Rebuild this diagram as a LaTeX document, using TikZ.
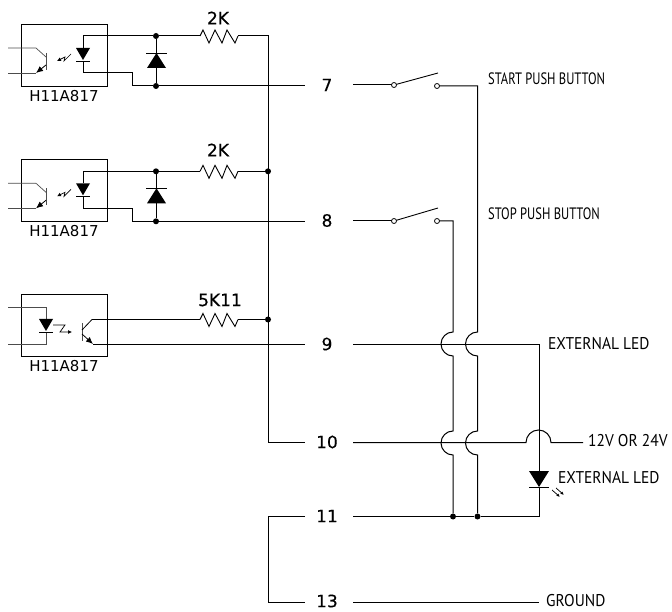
\documentclass[tikz,border=0pt]{standalone}
\usepackage{fontspec}
\setmainfont{PT Sans}
\newfontfamily\optofont{DejaVu Sans}
\newfontfamily\numfont[FakeBold=0.4]{DejaVu Sans}
\newfontfamily\sigfont[FakeStretch=0.91]{PT Sans}
\newfontfamily\sigfontn[FakeStretch=0.76]{PT Sans}
\usetikzlibrary{arrows.meta}
\tikzset{
  wire/.style={line width=1pt,line join=miter},
  thin wire/.style={line width=0.7pt,black!70},
  dotn/.style={circle,fill=black,inner sep=0pt,minimum size=6pt},
  contact/.style={circle,draw,fill=white,line width=0.8pt,inner sep=0pt,minimum size=5pt},
  pinlabel/.style={font=\numfont\fontsize{17}{17}\selectfont,inner sep=0pt},
  vallabel/.style={font=\numfont\fontsize{17}{17}\selectfont,inner sep=0pt},
  sig/.style={font=\sigfont\fontsize{17}{17}\selectfont,inner sep=0pt,anchor=west},
  signarrow/.style={font=\sigfontn\fontsize{16.5}{17}\selectfont,inner sep=0pt,anchor=west},
  partlabel/.style={font=\optofont\fontsize{15}{15}\selectfont,inner sep=0pt},
  pics/resistor/.style={code={
    \coordinate (-l) at (0,0);\coordinate (-r) at (38,0);
    \draw[line width=0.9pt,line join=miter] (0,0)--(3,-6)--(9,7)--(15,-6)--(22,7)--(27,-6)--(35,7)--(38,0);
  }},
  pics/optoin/.style={code={
    \draw[line width=0.9pt] (21,24) rectangle (107,86);
    \coordinate (-a) at (83,36); \coordinate (-k) at (83,73);
    \draw[wire] (83,36)--(83,48);
    \fill[black] (76,48)--(90,48)--(83,60)--cycle;
    \draw[line width=0.8pt] (76,61)--(90,61);
    \draw[wire] (83,61)--(83,73);
    \draw[thin wire] (8,48)--(36,48)--(46,57);
    \draw[thin wire] (8,73)--(36,73);
    \draw[line width=0.8pt,black!70] (46,53)--(46,70);
    \draw[line width=0.8pt,-{Latex[length=7pt,width=6pt]}] (46,65)--(36,73);
    \draw[line width=0.7pt,-{Latex[length=4pt,width=4pt]}] (71,54)--(64,61)--(65,57)--(57,61);
    \node[partlabel] at (64,96) {H11A817};
  }},
}
\begin{document}
\begin{tikzpicture}[x=1pt,y=-1pt]
\useasboundingbox (0,0) rectangle (672,612);
% opto-couplers
\pic (o1) at (0,0) {optoin};
\pic (o2) at (0,135.3) {optoin};
% third opto
\draw[line width=0.9pt] (21,294) rectangle (107,356);
\node[partlabel] at (64,366) {H11A817};
\draw[thin wire] (8,307)--(46,307)--(46,319);
\draw[thin wire] (8,344)--(46,344)--(46,332);
\fill[black] (39,319)--(53,319)--(46,331)--cycle;
\draw[line width=0.8pt] (39,332)--(53,332);
\draw[line width=0.7pt,-{Latex[length=4pt,width=4pt]}] (53,325)--(65,325)--(60,332)--(72,332);
\draw[line width=0.8pt,black!70] (82,323)--(82,341);
\draw[line width=0.8pt] (82,330)--(92,319.5);
\draw[line width=0.8pt,-{Latex[length=7pt,width=6pt]}] (82,334)--(93,344);
% pin labels
\node[pinlabel] (p7) at (327,85) {7};
\node[pinlabel] (p8) at (327,220.5) {8};
\node[pinlabel] (p9) at (327,344) {9};
\node[pinlabel] (p10) at (327,442) {10};
\node[pinlabel] (p11) at (327,516) {11};
\node[pinlabel] (p13) at (327,601) {13};
% values
\node[vallabel] (v1) at (218,18) {2K};
\node[vallabel] (v2) at (218,150) {2K};
\node[vallabel] (v3) at (220,300) {5K11};
% resistors
\pic (r1) at (200,36) {resistor};
\pic (r2) at (200,171.3) {resistor};
\pic (r3) at (200,319.5) {resistor};
% signal labels
\node[signarrow] (s1) at (488,79) {START PUSH BUTTON};
\node[signarrow] (s2) at (488,214) {STOP PUSH BUTTON};
\node[sig] (s3) at (548,344) {EXTERNAL LED};
\node[sig] (s4) at (588,441) {12V OR 24V};
\node[sig] (s5) at (558,478) {EXTERNAL LED};
\node[sig] (s6) at (546,601) {GROUND};
% junctions
\coordinate (busT) at (268,36);
\node[dotn] (j2) at (268,171.3) {};
\node[dotn] (j3) at (268,319.5) {};
\node[dotn] (d1t) at (156,36) {};
\node[dotn] (d1b) at (156,86) {};
\node[dotn] (d2t) at (156,171.3) {};
\node[dotn] (d2b) at (156,221.3) {};
\node[dotn] (j11a) at (453,516.5) {};
\node[dotn] (j11b) at (477.5,516.5) {};
% freewheel diodes
\foreach \a/\b in {d1t/d1b,d2t/d2b}{\draw[wire] (\a)--(\b);}
\foreach \y in {0,135.3}{
  \fill[black] (147,68+\y)--(166,68+\y)--(156.5,53+\y)--cycle;
  \draw[line width=0.9pt] (146,53+\y)--(167,53+\y);
}
% top wiring
\draw[wire] (o1-a)--(d1t)--(r1-l);
\draw[wire] (r1-r)--(busT)--(268,442.5)--(305,442.5);
\draw[wire] (o1-k)--(132,73)--(132,86)--(d1b)--(305,86);
\draw[wire] (o2-a)--(d2t)--(r2-l);
\draw[wire] (r2-r)--(j2);
\draw[wire] (o2-k)--(132,208.3)--(132,221.3)--(d2b)--(305,221.3);
\draw[wire] (92,319.5)--(r3-l);
\draw[wire] (r3-r)--(j3);
\draw[wire] (93,344)--(305,344);
% switches
\coordinate (c1a) at (394,85);\coordinate (c1b) at (437,86);
\coordinate (c2a) at (394,221);\coordinate (c2b) at (437,221);
\draw[wire] (353,85)--(c1a);
\draw[line width=0.9pt] (c1a)--(438,73);
\draw[wire] (c1b)--(477.5,86)--(477.5,332)
  arc[start angle=90,end angle=270,radius=12pt] --(477.5,431)
  arc[start angle=90,end angle=270,radius=12pt] --(j11b);
\draw[wire] (353,221)--(c2a);
\draw[line width=0.9pt] (c2a)--(438,208);
\draw[wire] (c2b)--(453,221)--(453,332)
  arc[start angle=90,end angle=270,radius=12pt] --(453,431)
  arc[start angle=90,end angle=270,radius=12pt] --(j11a);
\node[contact] at (c1a) {};\node[contact] at (c1b) {};
\node[contact] at (c2a) {};\node[contact] at (c2b) {};
% pin 9 and LED
\draw[wire] (353,344)--(539,344)--(539,471);
\fill[black] (529,471)--(549,471)--(539,487)--cycle;
\draw[line width=0.9pt] (529,487.5)--(549,487.5);
\draw[wire] (539,487)--(539,516.5)--(j11b)--(j11a)--(353,516.5);
\draw[line width=0.7pt,-{Latex[length=3.5pt,width=3pt]}] (552,490)--(560,497);
\draw[line width=0.7pt,-{Latex[length=3.5pt,width=3pt]}] (556,488)--(564,495);
% pin 10
\draw[wire] (353,442.5)--(526,442.5)
  arc[start angle=180,end angle=0,radius=12.5pt] --(583,442.5);
% pins 11 / 13
\draw[wire] (305,516.5)--(268,516.5)--(268,602)--(305,602);
\draw[wire] (353,602)--(539,602);
\end{tikzpicture}
\end{document}
